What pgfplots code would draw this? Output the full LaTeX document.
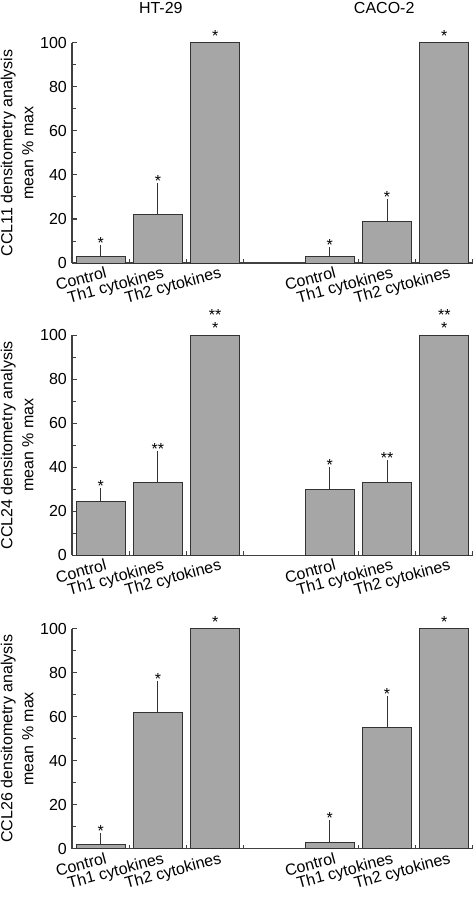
\documentclass[border=0pt]{standalone}
\usepackage{fontspec}
\setmainfont{Liberation Sans}
\usepackage{pgfplots}
\usepackage{pgfplotstable}
\pgfplotsset{compat=1.18}

\pgfplotstableread{
x y
0 3
1 22
2 100
4 3
5 19
6 100
}\barsA
\pgfplotstableread{
x y e
0 3 3
1 22 12
4 3 2
5 19 8
}\errA
\pgfplotstableread{
x top lab
0 6 *
1 34 *
2 100 *
4 5 *
5 27 *
6 100 *
}\starA

\pgfplotstableread{
x y
0 24.5
1 33
2 100
4 30
5 33
6 100
}\barsB
\pgfplotstableread{
x y e
0 24.5 3.7
1 33 12
4 30 8
5 33 8
}\errB
\pgfplotstableread{
x top lab
0 28.2 *
1 45 **
2 100 *
4 38 *
5 41 **
6 100 *
}\starB
\pgfplotstableread{
x top lab
2 100 **
6 100 **
}\starBB

\pgfplotstableread{
x y
0 2
1 62
2 100
4 3
5 55
6 100
}\barsC
\pgfplotstableread{
x y e
0 2 3
1 62 12
4 3 8
5 55 12
}\errC
\pgfplotstableread{
x top lab
0 5 *
1 74 *
2 100 *
4 11 *
5 67 *
6 100 *
}\starC

\pgfplotsset{
  panel/.style={
    scale only axis, width=401pt, height=220pt, anchor=south west,
    xmin=-0.5, xmax=6.5, ymin=0, ymax=100,
    axis x line*=bottom, axis y line*=left,
    axis line style={draw=black!75, line width=1.5pt},
    ytick={0,20,...,100}, minor ytick={10,30,...,90},
    xtick={0,1,2,4,5,6},
    xticklabels={Control,Th1 cytokines,Th2 cytokines,Control,Th1 cytokines,Th2 cytokines},
    minor xtick={0.5,1.5,2.5,4.5,5.5,6.5},
    major x tick style={draw=none},
    tick align=inside, major tick length=5pt, minor tick length=4pt,
    tick style={black!75, line width=1pt},
    xticklabel style={rotate=15, anchor=north east, inner sep=1pt, xshift=4pt, yshift=-3pt},
    yticklabel style={inner sep=2pt, xshift=-3pt},
    every axis y label/.style={at={(axis description cs:-0.0873,0.5)}, rotate=90, anchor=south, align=center, font=\fontsize{16}{21}\selectfont},
    clip=false,
    /pgf/number format/assume math mode=true,
  },
  barsty/.style={ybar, bar width=0.855, fill=black!35, draw=black!80, line width=1pt},
  errsty/.style={draw=none, mark=none, error bars/.cd, y dir=plus, y explicit,
    error bar style={line width=1pt, black!80},
    error mark options={line width=1pt, mark size=5pt, black!80}},
  starsty/.style={draw=none, mark=none, nodes near coords, point meta=explicit symbolic,
    nodes near coords style={anchor=base, yshift=1.5pt, inner sep=0pt}},
}

\begin{document}
\begin{tikzpicture}[font=\fontsize{16}{19}\selectfont]
\path[use as bounding box] (0,0) rectangle (474pt,-901pt);

\begin{axis}[panel, at={(72pt,-263pt)}, ylabel={CCL11 densitometry analysis\\mean \% max}]
\addplot[barsty] table[x=x,y=y]{\barsA};
\addplot[errsty] table[x=x,y=y,y error=e]{\errA};
\addplot[starsty] table[x=x,y=top,meta=lab]{\starA};
\node[anchor=base] at (axis cs:1.05,100) [yshift=29pt] {HT-29};
\node[anchor=base] at (axis cs:4.95,100) [yshift=29pt] {CACO-2};
\end{axis}

\begin{axis}[panel, at={(72pt,-555.3pt)}, ylabel={CCL24 densitometry analysis\\mean \% max}]
\addplot[barsty] table[x=x,y=y]{\barsB};
\addplot[errsty] table[x=x,y=y,y error=e]{\errB};
\addplot[starsty] table[x=x,y=top,meta=lab]{\starB};
\addplot[starsty, nodes near coords style={yshift=13pt}] table[x=x,y=top,meta=lab]{\starBB};
\end{axis}

\begin{axis}[panel, at={(72pt,-848.7pt)}, ylabel={CCL26 densitometry analysis\\mean \% max}]
\addplot[barsty] table[x=x,y=y]{\barsC};
\addplot[errsty] table[x=x,y=y,y error=e]{\errC};
\addplot[starsty] table[x=x,y=top,meta=lab]{\starC};
\end{axis}
\end{tikzpicture}
\end{document}
